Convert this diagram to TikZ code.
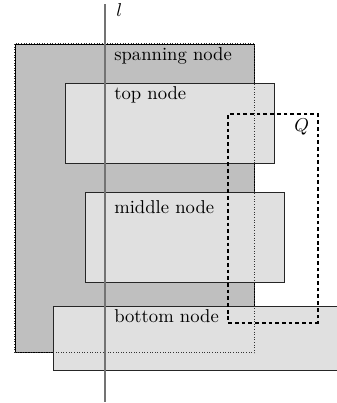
\documentclass[tikz,border=0pt]{standalone}
\usetikzlibrary{positioning}

\begin{document}
\begin{tikzpicture}[>=stealth]
  \useasboundingbox (0,0) rectangle (6.342,7.606);
  \tikzset{
    spanBox/.style={rectangle,fill=black!25,draw=black,inner sep=0pt},
    innerBox/.style={rectangle,fill=black!12,draw=black!85,inner sep=0pt},
    qBox/.style={rectangle,draw=black,line width=1pt,dash pattern=on 2pt off 1.6pt,inner sep=0pt},
    % label styles
    boxLabel/.style={anchor=base west,inner sep=0pt},
    lineLabel/.style={anchor=base west,inner sep=0pt}
  }

  %%% boxes
  \node[spanBox, minimum width=4.511cm, minimum height=5.819cm] (span) at (2.5385,3.8665) {};
  \node[innerBox, minimum width=3.950cm, minimum height=1.511cm] (top) at (3.202,5.2785) {};
  \node[innerBox, minimum width=3.756cm, minimum height=1.703cm] (middle) at (3.482,3.1215) {};
  \node[innerBox, minimum width=5.411cm, minimum height=1.204cm] (bottom) at (3.7115,1.215) {};

  % border of the spanning node shows through
  \draw[densely dotted, black!80] (span.south west) rectangle (span.north east);

  %%% region Q
  \node[qBox, minimum width=1.687cm, minimum height=3.939cm] (q) at (5.1525,3.4845) {};
  \node[lineLabel] (qlabel) at (5.55,5.124) {$Q$};

  %%% line l
  \coordinate (ltop) at (1.982,7.530);
  \coordinate (lbot) at (1.982,0.025);
  \draw[black!55, line width=0.9pt] (ltop) -- (lbot);
  \node[lineLabel] (llabel) at (2.19,7.291) {$l$};

  % Box labels
  \node[boxLabel] (spanlabel) at (2.15,6.455) {spanning node};
  \node[boxLabel] (toplabel) at (2.15,5.719) {top node};
  \node[boxLabel] (middlelabel) at (2.15,3.580) {middle node};
  \node[boxLabel] (bottomlabel) at (2.15,1.523) {bottom node};
\end{tikzpicture}
\end{document}
